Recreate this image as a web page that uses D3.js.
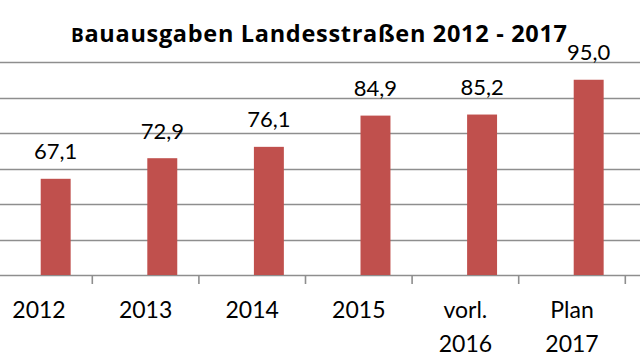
<!DOCTYPE html>
<html>
<head>
<meta charset="utf-8">
<script src="https://cdn.jsdelivr.net/npm/d3@7"></script>
<style>
  html, body { margin: 0; padding: 0; background: #fff; }
  svg { display: block; }
</style>
</head>
<body>
<svg id="chart" width="640" height="360"></svg>
<script>
// ---- data ----
const categories = ["2012", "2013", "2014", "2015", "vorl.\n2016", "Plan\n2017"];
const values = [67.1, 72.9, 76.1, 84.9, 85.2, 95.0];
const valueLabels = ["67,1", "72,9", "76,1", "84,9", "85,2", "95,0"];
const yTicks = [40, 50, 60, 70, 80, 90, 100];
const titleText = "Bauausgaben Landesstraßen 2012 - 2017";

// ---- layout ----
const W = 640, H = 360;
const plot = { left: -14.3, right: 625.3, top: 62, bottom: 275 };
const svg = d3.select("#chart");

const x = d3.scaleBand().domain(categories).range([plot.left, plot.right]).padding(0);
const y = d3.scaleLinear().domain([40, 100]).range([plot.bottom, plot.top]);
const bw = x.bandwidth();
const barOffset = 0.516, barWidth = 0.281;

const font = "Lato, 'Open Sans', sans-serif";

// gridlines
svg.append("g").selectAll("line").data(yTicks).join("line")
  .attr("x1", 0).attr("x2", W)
  .attr("y1", d => Math.round(y(d)) + 0.5).attr("y2", d => Math.round(y(d)) + 0.5)
  .attr("stroke", "#8e8e8e").attr("stroke-width", 1.6);

// category boundary ticks
const boundaries = categories.map(c => x(c) + bw);
svg.append("g").selectAll("line").data(boundaries).join("line")
  .attr("x1", d => d).attr("x2", d => d)
  .attr("y1", y(40)).attr("y2", y(40) + 9)
  .attr("stroke", "#8e8e8e").attr("stroke-width", 1.6);

// bars
svg.append("g").selectAll("rect").data(values).join("rect")
  .attr("x", (d, i) => x(categories[i]) + bw * barOffset)
  .attr("width", bw * barWidth)
  .attr("y", d => y(d))
  .attr("height", d => y(40) - y(d))
  .attr("fill", "#c0504d");

// value labels
svg.append("g").selectAll("text").data(values).join("text")
  .attr("x", (d, i) => x(categories[i]) + bw * (barOffset + barWidth / 2))
  .attr("y", d => y(d) - 19.5)
  .attr("text-anchor", "middle")
  .attr("font-family", font).attr("font-size", 22)
  .attr("fill", "#000")
  .text((d, i) => valueLabels[i]);

// category labels
const catG = svg.append("g");
categories.forEach(c => {
  const t = catG.append("text")
    .attr("x", x(c) + bw / 2)
    .attr("y", 318)
    .attr("text-anchor", "middle")
    .attr("font-family", font).attr("font-size", 23)
    .attr("fill", "#000");
  c.split("\n").forEach((line, j) => {
    t.append("tspan").attr("x", x(c) + bw / 2).attr("dy", j === 0 ? 0 : 33.5).text(line);
  });
});

// title
const title = svg.append("text")
  .attr("x", 71).attr("y", 42.3)
  .attr("text-anchor", "start")
  .attr("font-family", "'Open Sans', Lato, sans-serif").attr("font-weight", "bold").attr("font-size", 23.5)
  .attr("textLength", 496).attr("lengthAdjust", "spacing")
  .attr("fill", "#000");
title.append("tspan").attr("font-size", 19).text(titleText.slice(0, 1));
title.append("tspan").text(titleText.slice(1));
</script>
</body>
</html>
